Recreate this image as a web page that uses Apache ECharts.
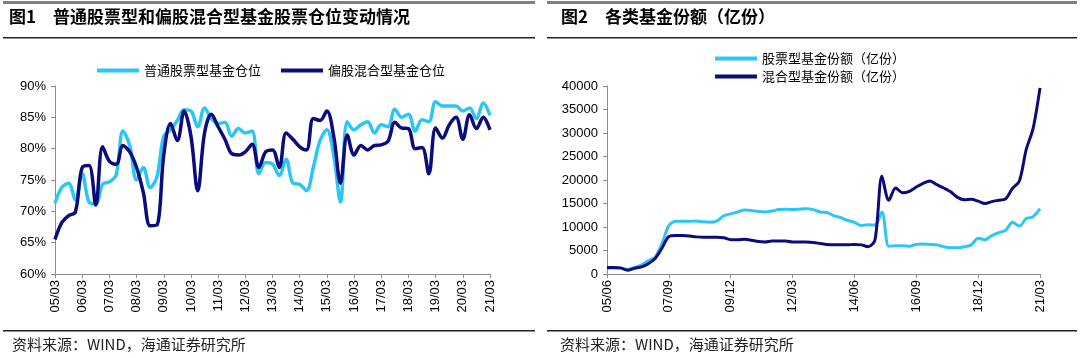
<!DOCTYPE html>
<html>
<head>
<meta charset="utf-8">
<script src="https://cdn.jsdelivr.net/npm/echarts@6/dist/echarts.min.js"></script>
<style>
html,body{margin:0;padding:0;background:#fff;}
#c{width:1080px;height:358px;}
</style>
</head>
<body>
<div id="c"></div>
<script>
// ---------- Data: Figure 1 (quarterly, 05/03 .. 21/03) ----------
const posYears = ['05','06','07','08','09','10','11','12','13','14','15','16','17','18','19','20','21'];
const posQuarters = ['03','06','09','12'];
const posCategories = [];
posYears.forEach(function(y){ posQuarters.forEach(function(q){ if(!(y==='21' && q!=='03')) posCategories.push(y+'/'+q); }); });

const stockFundPos = [71.3,73.8,74.5,71.8,76.0,71.5,71.2,74.3,74.7,75.8,82.8,80.5,75.0,77.0,73.8,75.5,
  82.0,83.0,84.5,86.2,86.0,83.5,86.5,84.8,84.0,84.2,82.0,83.2,82.5,82.8,76.0,77.8,
  77.5,75.7,78.3,74.5,74.3,73.3,77.0,81.3,83.0,79.0,71.5,84.3,83.0,83.8,84.3,82.5,
  83.8,83.5,86.3,85.0,85.5,82.8,84.6,84.3,87.5,86.8,86.8,86.8,86.0,86.5,84.8,87.3,85.3];
const mixFundPos = [65.5,68.2,69.3,69.9,77.0,77.3,71.0,80.3,78.0,77.5,80.5,79.5,77.0,73.0,67.7,67.8,
  79.0,84.0,81.3,86.0,82.0,73.3,82.5,85.5,83.5,81.5,79.2,79.0,79.5,80.7,77.0,79.5,
  79.8,77.0,82.5,81.5,80.3,79.8,84.8,84.5,86.0,82.0,74.5,82.2,79.0,80.5,79.8,80.5,
  80.6,81.2,84.2,83.3,83.2,80.0,80.2,76.0,83.3,81.7,83.8,85.0,81.5,85.4,83.2,85.0,83.0];
const posTickLabels = ['60%','65%','70%','75%','80%','85%','90%'];

// ---------- Data: Figure 2 (quarterly, 05/06 .. 21/03) ----------
const shareCategories = [];
(function(){
  let y=2005, m=6;
  while (y<2021 || (y===2021 && m<=3)) {
    shareCategories.push(String(y%100).padStart(2,'0')+'/'+String(m).padStart(2,'0'));
    m+=3; if(m>12){m-=12;y++;}
  }
})();
const stockFundShare = [1200,1300,1200,1000,1400,1900,2800,3600,6500,10300,11200,11200,11200,11300,11100,11000,
  11300,12400,12800,13200,13600,13500,13300,13200,13400,13700,13800,13700,13800,13900,13700,13200,
  13100,12400,12000,11400,11000,10300,10500,10400,13200,5900,6000,6000,5900,6300,6400,6300,
  6200,5800,5600,5600,5800,6200,7600,7300,8200,8800,9300,11000,10200,11800,12200,13900];
const mixFundShare = [1400,1400,1300,800,1200,1500,2200,3300,5500,8000,8200,8200,8100,7900,7800,7800,
  7800,7700,7300,7300,7400,7200,6900,6800,7000,7000,7000,6800,6800,6800,6700,6500,
  6300,6200,6200,6200,6300,6200,5800,7300,20800,15700,18300,17300,17600,18500,19300,19800,
  19000,18300,17500,16300,15800,15900,15500,15000,15400,15700,16000,18200,19800,26500,31000,39600];

const seriesNames1 = ['普通股票型基金仓位','偏股混合型基金仓位'];
const seriesNames2 = ['股票型基金份额（亿份）','混合型基金份额（亿份）'];
const titles = ['图1　普通股票型和偏股混合型基金股票仓位变动情况','图2　各类基金份额（亿份）'];
const sourceText = '资料来源：WIND，海通证券研究所';

const LIGHT = '#2CC6F5';
const NAVY = '#0B0C7C';
const AXIS = '#8c8c8c';
const FONT = 'Liberation Sans, Arial, sans-serif';
const CJK = '"Noto Sans CJK SC", sans-serif';

const chart = echarts.init(document.getElementById('c'), null, {renderer:'canvas'});

const axisLabelStyle = {color:'#000', fontFamily:FONT, fontSize:13};

chart.setOption({
  animation:false,
  backgroundColor:'#fff',
  graphic:[
    {type:'rect', shape:{x:3,y:1,width:532,height:3}, style:{fill:'#808080'}},
    {type:'rect', shape:{x:547,y:1,width:530,height:3}, style:{fill:'#808080'}},
    {type:'text', left:9, top:8, style:{text:titles[0], font:'bold 17px '+CJK, fill:'#000'}},
    {type:'text', left:561, top:8, style:{text:titles[1], font:'bold 17px '+CJK, fill:'#000'}},
    {type:'rect', shape:{x:3,y:37,width:532,height:1.5}, style:{fill:'#222'}},
    {type:'rect', shape:{x:547,y:37,width:530,height:1.5}, style:{fill:'#222'}},
    {type:'rect', shape:{x:3,y:330,width:532,height:1.5}, style:{fill:'#222'}},
    {type:'rect', shape:{x:547,y:330,width:530,height:1.5}, style:{fill:'#222'}},
    {type:'text', left:12, top:337, style:{text:sourceText, font:'15px '+CJK, fill:'#222'}},
    {type:'text', left:560, top:337, style:{text:sourceText, font:'15px '+CJK, fill:'#222'}}
  ],
  legend:[
    {data:seriesNames1, left:92, top:59, icon:'rect', itemWidth:42, itemHeight:4, itemGap:20,
     textStyle:{fontFamily:CJK, fontSize:13, color:'#000'}},
    {data:seriesNames2, left:710, top:47, orient:'vertical', icon:'rect', itemWidth:42, itemHeight:4, itemGap:5,
     textStyle:{fontFamily:CJK, fontSize:13, color:'#000'}}
  ],
  grid:[
    {left:55, right:590, top:86, bottom:84},
    {left:607, right:40, top:86, bottom:84}
  ],
  xAxis:[
    {type:'category', gridIndex:0, data:posCategories, boundaryGap:false,
     axisLine:{lineStyle:{color:AXIS}}, axisTick:{interval:3, length:4, lineStyle:{color:AXIS}},
     axisLabel:Object.assign({interval:3, rotate:90, margin:6}, axisLabelStyle)},
    {type:'category', gridIndex:1, data:shareCategories, boundaryGap:false,
     axisLine:{lineStyle:{color:AXIS}}, axisTick:{interval:8, length:4, lineStyle:{color:AXIS}},
     axisLabel:Object.assign({interval:8, rotate:90, margin:6}, axisLabelStyle)}
  ],
  yAxis:[
    {type:'value', gridIndex:0, min:60, max:90, interval:5,
     axisLine:{show:true, lineStyle:{color:AXIS}}, axisTick:{show:true, length:4, lineStyle:{color:AXIS}},
     splitLine:{show:false},
     axisLabel:Object.assign({margin:9, formatter:function(v){ return posTickLabels[Math.round((v-60)/5)]; }}, axisLabelStyle)},
    {type:'value', gridIndex:1, min:0, max:40000, interval:5000,
     axisLine:{show:true, lineStyle:{color:AXIS}}, axisTick:{show:true, length:4, lineStyle:{color:AXIS}},
     splitLine:{show:false},
     axisLabel:Object.assign({margin:9, formatter:function(v){ return String(v); }}, axisLabelStyle)}
  ],
  series:[
    {name:seriesNames1[0], type:'line', xAxisIndex:0, yAxisIndex:0, data:stockFundPos, smooth:0.35,
     symbol:'none', lineStyle:{color:LIGHT, width:3.5}, itemStyle:{color:LIGHT}},
    {name:seriesNames1[1], type:'line', xAxisIndex:0, yAxisIndex:0, data:mixFundPos, smooth:0.35,
     symbol:'none', lineStyle:{color:NAVY, width:3.5}, itemStyle:{color:NAVY}},
    {name:seriesNames2[0], type:'line', xAxisIndex:1, yAxisIndex:1, data:stockFundShare, smooth:0.3,
     symbol:'none', lineStyle:{color:LIGHT, width:3}, itemStyle:{color:LIGHT}},
    {name:seriesNames2[1], type:'line', xAxisIndex:1, yAxisIndex:1, data:mixFundShare, smooth:0.3,
     symbol:'none', lineStyle:{color:NAVY, width:3}, itemStyle:{color:NAVY}}
  ]
});
</script>
</body>
</html>
